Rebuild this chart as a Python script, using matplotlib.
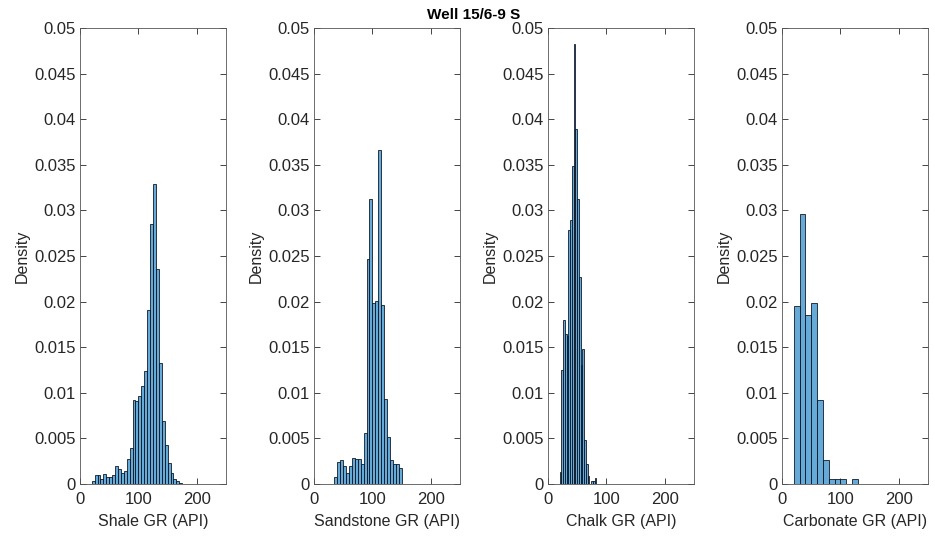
import numpy as np
import matplotlib

matplotlib.use("Agg")
import matplotlib.pyplot as plt

plt.rcParams["font.family"] = ["Liberation Sans", "DejaVu Sans"]

title = "Well 15/6-9 S"
xlabels = ["Shale GR (API)", "Sandstone GR (API)", "Chalk GR (API)", "Carbonate GR (API)"]

# histogram bins (API) and pdf-normalised heights
shale_start, shale_width = 20, 5
shale_density = [0.0003, 0.0010, 0.0010, 0.0006, 0.0011, 0.0008, 0.0008, 0.0010,
                 0.0020, 0.0016, 0.0012, 0.0014, 0.0027, 0.0040, 0.0092, 0.0091,
                 0.0097, 0.0107, 0.0124, 0.0191, 0.0285, 0.0329, 0.0236, 0.0133,
                 0.0069, 0.0043, 0.0023, 0.0012, 0.0005, 0.0003, 0.0001]

sand_start, sand_width = 35, 5
sand_density = [0.0008, 0.0024, 0.0026, 0.0020, 0.0012, 0.0020, 0.0028, 0.0027,
                0.0027, 0.0022, 0.0056, 0.0247, 0.0313, 0.0199, 0.0201, 0.0366,
                0.0196, 0.0093, 0.0051, 0.0026, 0.0022, 0.0022, 0.0018]

chalk_start, chalk_width = 20, 3
chalk_density = [0.0013, 0.0125, 0.0180, 0.0165, 0.0162, 0.0279, 0.0290, 0.0349,
                 0.0483, 0.0389, 0.0313, 0.0227, 0.0130, 0.0148, 0.0048, 0.0022,
                 0.0009, 0.0000, 0.0003, 0.0003, 0.0007]

carb_start, carb_width = 20, 10
carb_density = [0.0195, 0.0296, 0.0185, 0.0198, 0.0092, 0.0026, 0.0005, 0.0005,
                0.0005, 0.0000, 0.0005]

panels = [
    (shale_start, shale_width, shale_density),
    (sand_start, sand_width, sand_density),
    (chalk_start, chalk_width, chalk_density),
    (carb_start, carb_width, carb_density),
]

yticks = np.arange(0, 0.0501, 0.005)
ytick_labels = ["0", "0.005", "0.01", "0.015", "0.02", "0.025", "0.03", "0.035", "0.04", "0.045", "0.05"]

W, H = 935, 539
fig = plt.figure(figsize=(W / 100, H / 100), dpi=100)
face = (0.0, 0.447, 0.741, 0.6)
axc = "#262626"

lefts = [80, 314, 548, 782]
for i, (start, width, dens) in enumerate(panels):
    ax = fig.add_axes([lefts[i] / W, 55 / H, 146 / W, 456 / H])
    dens = np.asarray(dens)
    edges = start + width * np.arange(len(dens) + 1)
    ax.hist(edges[:-1], bins=edges, weights=dens, facecolor=face,
            edgecolor="#111a2a", linewidth=0.6)
    ax.set_xlim(0, 250)
    ax.set_ylim(0, 0.05)
    ax.set_xticks([0, 100, 200])
    ax.set_yticks(yticks)
    ax.set_yticklabels(ytick_labels)
    ax.tick_params(direction="in", length=4, width=0.6, colors=axc,
                   labelsize=12, top=True, right=True)
    ax.tick_params(axis="x", pad=6)
    ax.tick_params(axis="y", pad=3)
    for sp in ax.spines.values():
        sp.set_linewidth(0.6)
        sp.set_color("#555555")
    ax.set_xlabel(xlabels[i], fontsize=11.5, color=axc, labelpad=5)
    ax.set_ylabel("Density", fontsize=11.5, color=axc, labelpad=3)

fig.suptitle(title, x=474 / W, y=1 - 15 / H, va="center", fontsize=11,
             fontweight="bold")
fig.savefig("out.png", dpi=100)
